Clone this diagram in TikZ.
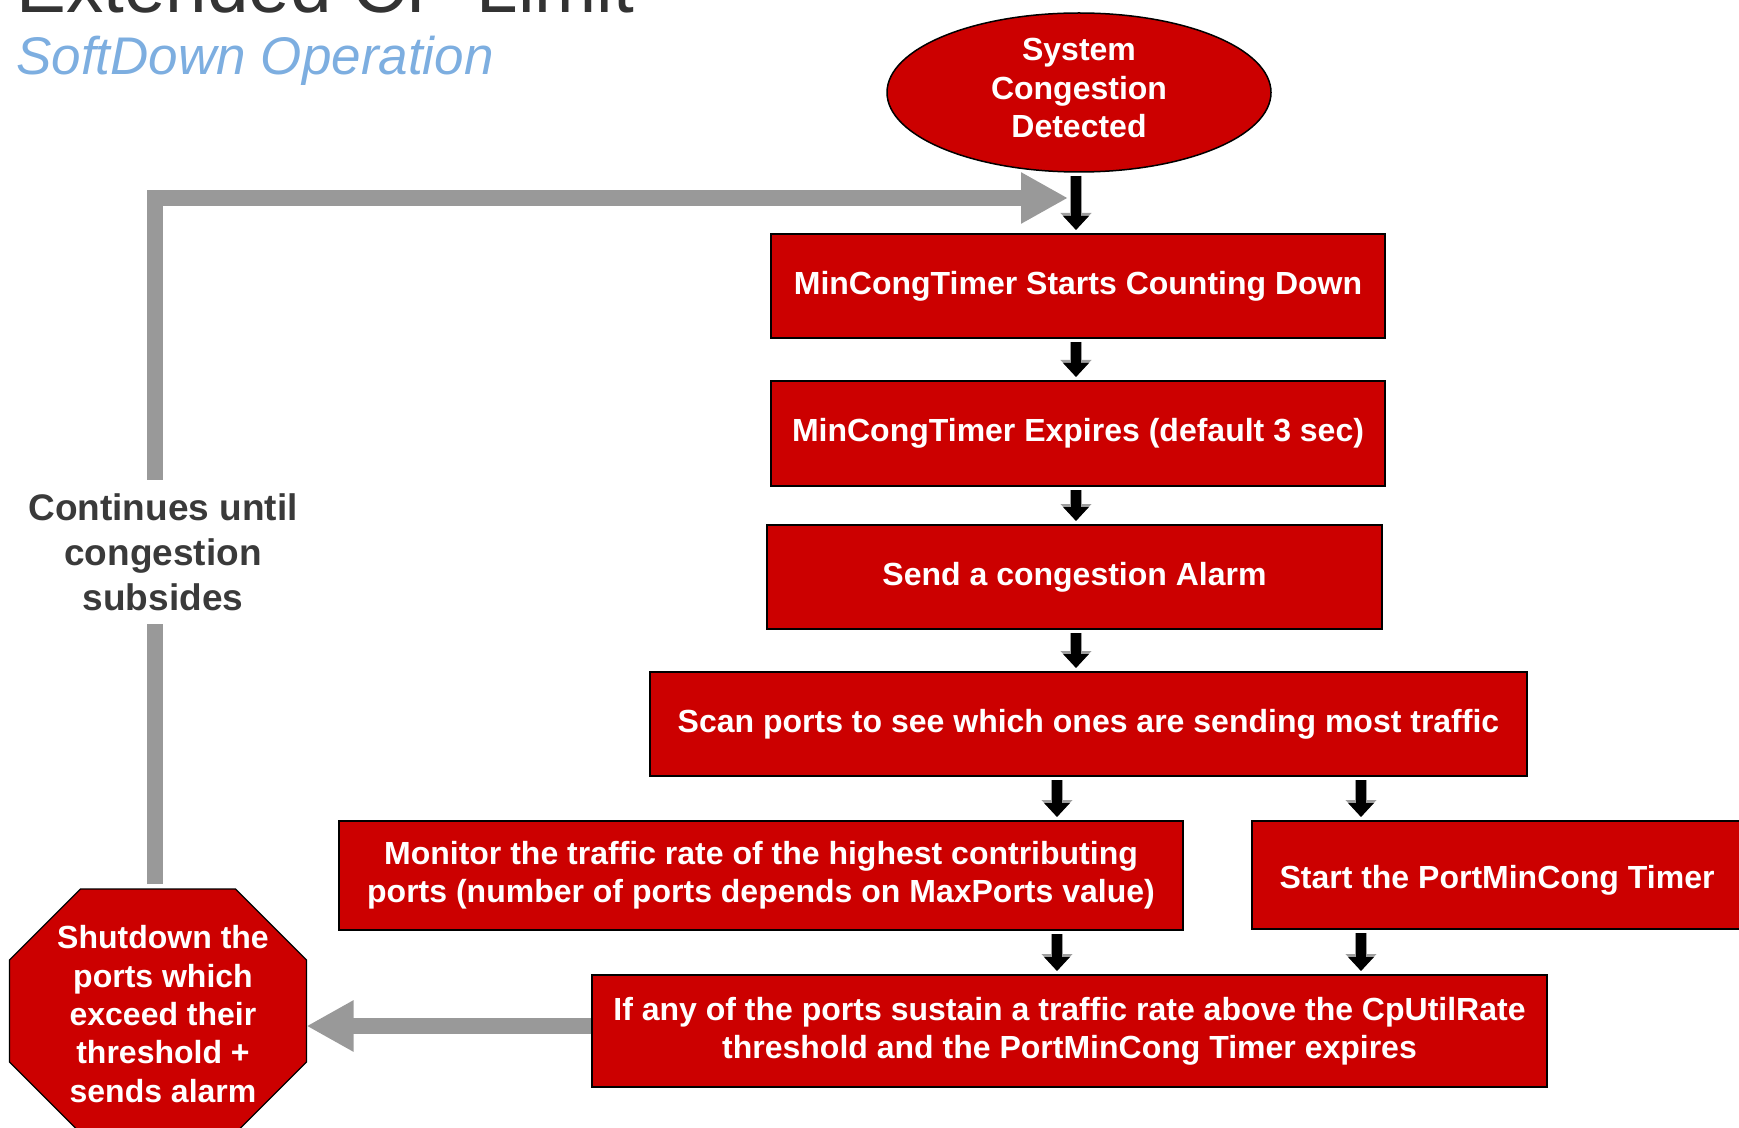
\documentclass[tikz,border=0pt]{standalone}
\usepackage{fontspec}
\setmainfont{Liberation Sans}
\usetikzlibrary{arrows.meta,calc,shapes.geometric}
\definecolor{boxred}{HTML}{CC0000}
\definecolor{loopgray}{HTML}{999999}
\definecolor{titlegray}{HTML}{333333}
\definecolor{subblue}{HTML}{7DAEE0}
\definecolor{notegray}{HTML}{3A3A3A}

\begin{document}
\begin{tikzpicture}[x=0.5pt,y=-0.5pt,
  stepbox/.style={draw=black, line width=1pt, fill=boxred, text=white,
    font=\bfseries\fontsize{16}{19.2}\selectfont, align=center, inner sep=0pt},
  stoptext/.style={text=white, font=\bfseries\fontsize{16}{19.2}\selectfont,
    align=center, inner sep=0pt},
  blk/.style={draw=black, line width=5pt, -{Triangle[width=12.5pt,length=7pt]},
    shorten <=1.5pt, shorten >=1.5pt,
    preaction={draw=gray!75, line width=6pt, -{Triangle[width=15pt,length=8.5pt]}}},
  graybar/.style={draw=loopgray, line width=8pt, line join=miter},
  graytip/.style={-{Triangle[width=24pt,length=23.5pt]}}
]
\useasboundingbox (0,0) rectangle (1739,1128);

% headings
\node[anchor=base west, text=titlegray, inner sep=0pt,
      font=\fontsize{37.3}{40}\selectfont] (title) at (16,13) {Extended CP Limit};
\node[anchor=base west, text=subblue, inner sep=0pt,
      font=\itshape\fontsize{26.5}{30}\selectfont] (subtitle) at (16,75) {SoftDown Operation};

% start of the flow
\node[ellipse, draw=black, line width=0.75pt, fill=boxred, inner sep=0pt,
      minimum width=192pt, minimum height=79.5pt] (detect) at (1079,92.5) {};
\node[stoptext] (detecttext) at (1079,88) {System\\Congestion\\Detected};

% process steps
\node[stepbox, minimum width=307pt, minimum height=52pt] (start) at (1078,286)
      {MinCongTimer Starts Counting Down};
\node[stepbox, minimum width=307pt, minimum height=52.5pt] (expire) at (1078,433.5)
      {MinCongTimer Expires (default 3 sec)};
\node[stepbox, minimum width=307.5pt, minimum height=52pt] (alarm) at (1074.5,577)
      {Send a congestion Alarm};
\node[stepbox, minimum width=438.5pt, minimum height=52pt] (scan) at (1088.5,724)
      {Scan ports to see which ones are sending most traffic};
\node[stepbox, minimum width=422pt, minimum height=54.5pt] (monitor) at (761,875.5)
      {Monitor the traffic rate of the highest contributing\\ports (number of ports depends on MaxPorts value)};
\node[stepbox, minimum width=245pt, minimum height=54pt] (porttimer) at (1497,875) {};
\node[stoptext] (porttext) at (1497,880) {Start the PortMinCong Timer};
\node[stepbox, minimum width=477.5pt, minimum height=56pt] (sustain) at (1069.5,1031)
      {If any of the ports sustain a traffic rate above the CpUtilRate\\threshold and the PortMinCong Timer expires};

% stop sign
\draw[draw=black, line width=0.6pt, fill=boxred]
  (80.5,889) -- (235.5,889) -- (306.5,960) -- (306.5,1062) -- (235.5,1133)
  -- (80.5,1133) -- (9.5,1062) -- (9.5,960) -- cycle;
\coordinate (shut) at (158,1011);
\node[stoptext] (shuttext) at (163,1014)
  {Shutdown the\\ports which\\exceed their\\threshold +\\sends alarm};
\coordinate (shuttop) at (158,889);
\coordinate (shuteast) at (306.5,1026);

% loop-back note
\node[text=notegray, font=\bfseries\fontsize{18.5}{22.5}\selectfont, align=center,
      inner sep=0pt, minimum height=72pt] (note) at (163,552)
      {Continues until\\congestion\\subsides};

% column positions of the small arrows
\coordinate (colA) at (1076,0);
\coordinate (colB) at (1057,0);
\coordinate (colC) at (1361,0);
\coordinate (lx) at (155,0);
\coordinate (loopin) at (1068,198);

% small black arrows
\draw[blk] (detect.south -| colA) -- (start.north -| colA);
\draw[blk] (start.south -| colA) -- (expire.north -| colA);
\draw[blk] (expire.south -| colA) -- (alarm.north -| colA);
\draw[blk] (alarm.south -| colA) -- (scan.north -| colA);
\draw[blk] (scan.south -| colB) -- (monitor.north -| colB);
\draw[blk] (scan.south -| colC) -- (porttimer.north -| colC);
\draw[blk] (monitor.south -| colB) -- (sustain.north -| colB);
\draw[blk] (porttimer.south -| colC) -- (sustain.north -| colC);

% gray loop-back arrows
\draw[graybar, graytip] (sustain.west |- shuteast) -- (shuteast);
\draw[graybar, shorten <=2.5pt] (shuttop -| lx) -- (note.south -| lx);
\draw[graybar, graytip] (note.north -| lx) |- (loopin);
\end{tikzpicture}
\end{document}
